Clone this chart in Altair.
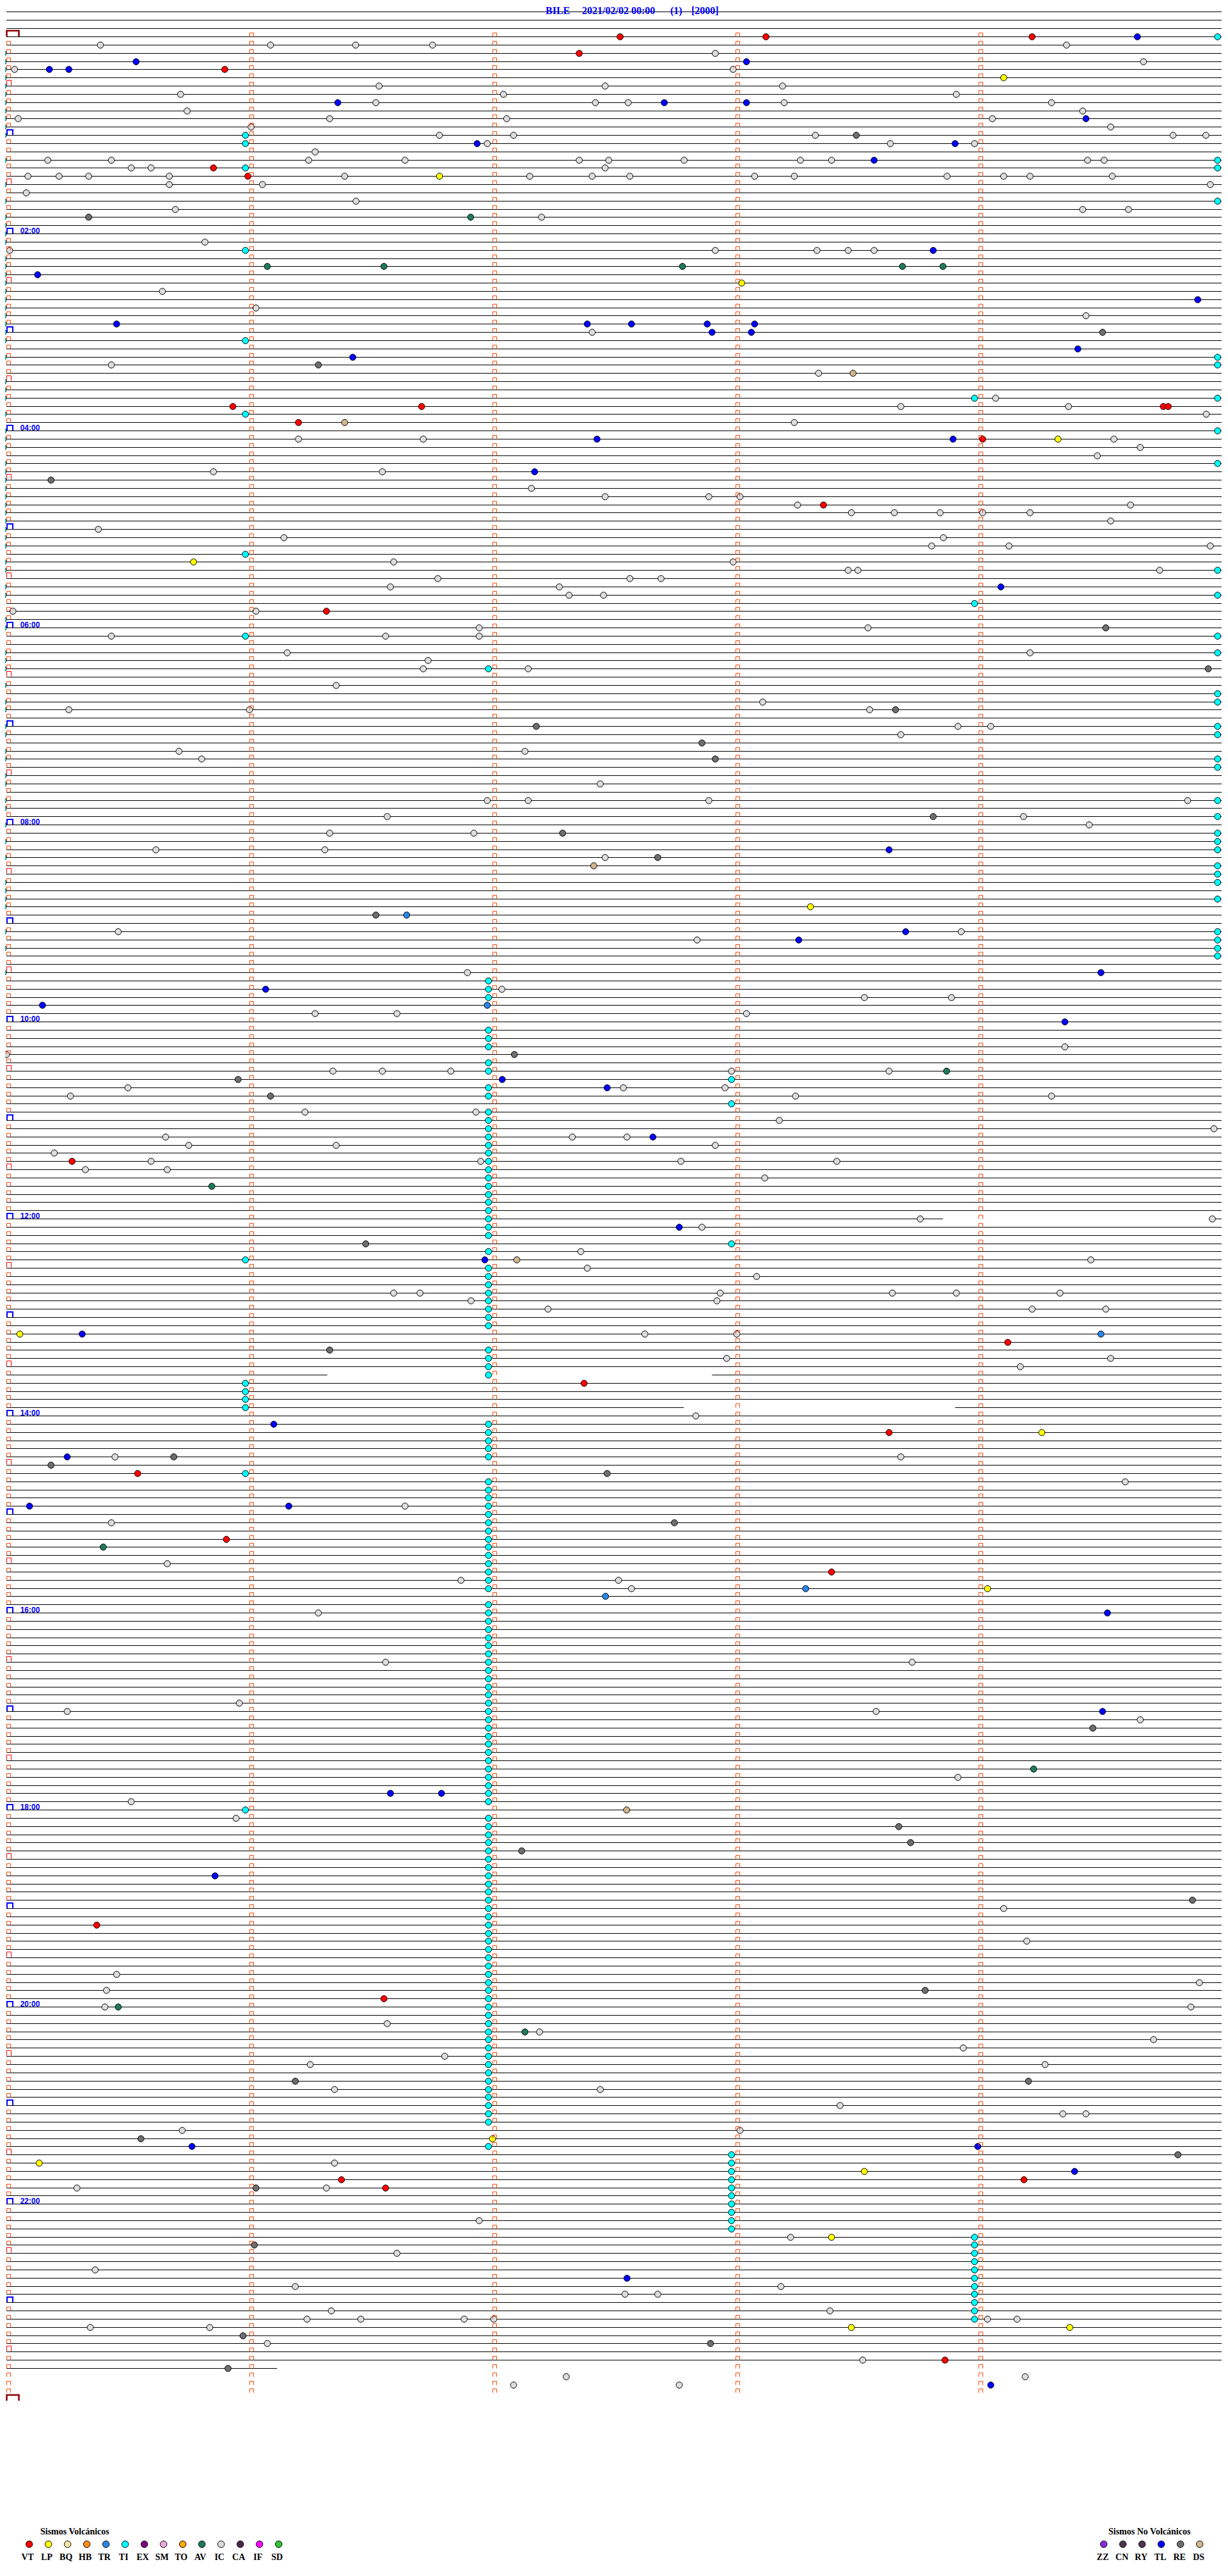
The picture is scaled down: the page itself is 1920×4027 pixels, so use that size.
import altair as alt
import pandas as pd

# ============================ values ============================
TITLE_PARTS = ["BILE", "2021/02/02 00:00", "(1)", "[2000]"]
TITLE_LEFT_PX = [845, 902, 1040, 1073]          # left edge of each header piece

VOLC_TYPES = ["VT", "LP", "BQ", "HB", "TR", "TI", "EX", "SM", "TO", "AV", "IC", "CA", "IF", "SD"]
VOLC_COLORS = ["#FF0000", "#FFFF00", "#F2E3A6", "#FF8C1A", "#2A86E8", "#00FFFF", "#800080",
               "#EBA8E0", "#FFA500", "#1F7A5C", "#DCDCDC", "#4A2A48", "#FF00FF", "#33C433"]
NONV_TYPES = ["ZZ", "CN", "RY", "TL", "RE", "DS"]
NONV_COLORS = ["#8A2BE2", "#4D3550", "#4D3550", "#0000FF", "#6E6E6E", "#D2B48C"]

HOUR_LABELS = ["02:00", "04:00", "06:00", "08:00", "10:00", "12:00",
               "14:00", "16:00", "18:00", "20:00", "22:00"]
HOUR_LABEL_ROWS = [24, 48, 72, 96, 120, 144, 168, 192, 216, 240, 264]

# one row = 5 minutes; events given as (row, seconds into the row)
TI_ROWS_START = [2, 3, 4, 5, 6, 7, 8, 9, 10, 11, 12, 15, 18, 20, 22, 23, 24, 25, 27, 28, 29, 30, 31,
                 32, 33, 34, 35, 36, 37, 39, 42, 43, 44, 46, 48, 49, 50, 52, 53, 54, 55, 56, 57, 58,
                 59, 60, 61, 62, 64, 65, 67, 68, 71, 72, 75, 76, 77, 79, 81, 82, 84, 85, 87, 88, 90,
                 91, 93, 94, 96, 98, 100, 103, 104, 105, 106, 109, 111, 114]
TI_ROWS_END = [0, 15, 16, 20, 39, 40, 44, 48, 52, 65, 68, 73, 75, 80, 81, 84, 85, 88, 89, 93, 95,
               97, 98, 99, 101, 102, 103, 105, 109, 110, 111, 112]
TI_ROWS_MIN1 = [12, 13, 16, 26, 37, 46, 63, 73, 149, 164, 165, 166, 167, 175, 216]
TI_ROWS_MIN2 = [77, 115, 116, 117, 121, 122, 123, 125, 126, 128, 129, 131, 132, 133, 134, 135, 136,
                137, 138, 139, 140, 141, 142, 143, 144, 145, 146, 148, 150, 151, 152, 153, 154, 155,
                156, 157, 160, 161, 162, 163, 169, 170, 171, 172, 173, 176, 177, 178, 179, 180, 181,
                182, 183, 184, 185, 186, 187, 188, 189, 191, 192, 193, 194, 195, 196, 197, 198, 199,
                200, 201, 202, 203, 204, 205, 206, 207, 208, 209, 210, 211, 212, 213, 214, 215, 217,
                218, 219, 220, 221, 222, 223, 224, 225, 226, 227, 228, 229, 230, 231, 232, 233, 234,
                235, 236, 237, 238, 239, 240, 241, 242, 243, 244, 245, 246, 247, 248, 249, 250, 251,
                252, 253, 254, 257]
TI_ROWS_MIN3 = [127, 130, 147, 258, 259, 260, 261, 262, 263, 264, 265, 266, 267]
TI_ROWS_MIN4 = [44, 69, 268, 269, 270, 271, 272, 273, 274, 275, 276, 277, 278]
TI_SECONDS = [0.0, 299.8, 59.8, 119.8, 179.8, 239.8]

VT = [(0, 152.3), (0, 188.3), (0, 254.0), (2, 142.2), (4, 54.7), (16, 51.9), (17, 60.4), (45, 56.7),
      (45, 103.3), (45, 286.4), (45, 287.6), (47, 72.9), (49, 241.8), (57, 202.5), (70, 79.8),
      (137, 17.0), (159, 248.0), (164, 143.4), (170, 218.7), (175, 33.2), (183, 55.1), (187, 204.5),
      (230, 23.1), (239, 94.0), (261, 83.5), (261, 252.0), (262, 94.4), (283, 232.5)]
LP = [(5, 247.0), (17, 107.7), (30, 182.3), (49, 260.4), (64, 47.0), (106, 199.3), (158, 4.1),
      (170, 256.4), (189, 243.0), (256, 120.8), (259, 8.9), (260, 212.6), (268, 204.5), (279, 209.4),
      (279, 263.3)]
TR = [(107, 99.6), (118, 119.5), (158, 271.0), (189, 198.1), (190, 148.7)]
AV = [(22, 115.4), (28, 65.2), (28, 94.0), (28, 167.7), (28, 222.0), (28, 232.0), (126, 232.9),
      (140, 51.5), (184, 24.7), (211, 254.4), (240, 28.4), (243, 128.8)]
DS = [(41, 209.8), (47, 84.3), (101, 145.8), (149, 126.8), (216, 153.9)]
RE = [(12, 210.6), (22, 21.1), (36, 271.4), (40, 77.8), (54, 11.8), (72, 272.2), (77, 297.5),
      (82, 220.3), (84, 131.6), (86, 172.5), (88, 175.8), (95, 229.6), (97, 138.1), (100, 161.6),
      (107, 92.0), (124, 126.2), (127, 58.0), (129, 66.0), (147, 89.5), (160, 80.6), (173, 42.1),
      (174, 11.8), (175, 149.1), (181, 165.7), (206, 269.0), (218, 221.1), (220, 224.0), (221, 128.0),
      (227, 293.6), (238, 227.6), (249, 72.1), (249, 253.1), (256, 34.0), (258, 290.0), (262, 62.4),
      (269, 62.0), (280, 59.2), (281, 174.6), (284, 55.5)]
TL = [(0, 280.0), (3, 32.8), (3, 183.5), (4, 11.4), (4, 16.2), (8, 82.6), (8, 163.2), (8, 183.5),
      (10, 267.3), (13, 117.0), (13, 235.0), (15, 215.0), (26, 229.6), (29, 8.5), (32, 294.9),
      (35, 28.0), (35, 144.2), (35, 155.1), (35, 173.8), (35, 185.5), (36, 175.0), (36, 184.7),
      (38, 265.3), (39, 86.3), (49, 146.6), (49, 234.5), (53, 131.2), (67, 246.3), (99, 218.7),
      (109, 222.8), (110, 196.4), (114, 271.0), (116, 64.8), (118, 9.7), (120, 262.1), (127, 123.2),
      (128, 149.1), (134, 160.4), (145, 166.9), (149, 118.9), (158, 19.5), (169, 66.8), (173, 15.8),
      (179, 6.5), (179, 70.5), (192, 272.6), (204, 271.4), (214, 95.6), (214, 108.2), (224, 52.3),
      (257, 46.6), (257, 240.6), (260, 264.5), (273, 154.0), (286, 243.8)]
IC = [(1, 24.0), (1, 66.0), (1, 87.0), (1, 106.0), (1, 262.5), (2, 175.8), (3, 281.5), (4, 2.8),
      (4, 180.2), (6, 92.8), (6, 148.6), (6, 192.4), (7, 43.8), (7, 123.5), (7, 235.3), (8, 92.0),
      (8, 146.2), (8, 154.3), (8, 192.8), (8, 258.8), (9, 45.4), (9, 266.5), (10, 3.7), (10, 80.6),
      (10, 124.3), (10, 244.2), (11, 61.2), (11, 273.4), (12, 107.7), (12, 126.0), (12, 200.5),
      (12, 288.8), (12, 296.9), (13, 119.5), (13, 219.0), (13, 239.8), (14, 77.0), (15, 11.0),
      (15, 26.7), (15, 75.4), (15, 99.2), (15, 142.2), (15, 149.5), (15, 168.1), (15, 196.8),
      (15, 204.5), (15, 267.7), (15, 271.8), (16, 31.6), (16, 36.5), (16, 148.6), (17, 6.1),
      (17, 13.8), (17, 21.1), (17, 41.0), (17, 84.3), (17, 130.0), (17, 145.4), (17, 154.7),
      (17, 185.5), (17, 195.3), (17, 233.0), (17, 247.0), (17, 253.5), (17, 273.8), (18, 41.0),
      (18, 64.0), (18, 298.0), (19, 5.7), (20, 87.1), (21, 42.5), (21, 266.5), (21, 277.8),
      (22, 132.9), (25, 49.8), (26, 1.6), (26, 175.8), (26, 200.9), (26, 208.6), (26, 215.0),
      (31, 39.3), (33, 62.4), (34, 267.3), (36, 145.4), (40, 26.7), (41, 201.3), (44, 245.0),
      (45, 221.6), (45, 263.0), (46, 297.0), (47, 195.3), (49, 72.9), (49, 103.7), (49, 274.2),
      (50, 280.7), (51, 270.1), (53, 51.9), (53, 93.6), (55, 130.4), (56, 148.6), (56, 174.2),
      (56, 181.9), (57, 196.1), (57, 278.3), (58, 209.4), (58, 220.0), (58, 231.3), (58, 241.8),
      (58, 253.5), (59, 273.4), (60, 23.5), (61, 69.3), (61, 232.1), (62, 229.2), (62, 248.3),
      (62, 298.0), (64, 96.4), (64, 180.2), (65, 208.6), (65, 211.0), (65, 285.5), (66, 107.3),
      (66, 154.7), (66, 162.4), (67, 95.6), (67, 137.3), (68, 139.7), (68, 148.2), (70, 2.4),
      (70, 62.4), (72, 117.5), (72, 213.5), (73, 26.7), (73, 94.4), (73, 117.5), (75, 70.1),
      (75, 253.5), (76, 104.9), (77, 103.7), (77, 129.6), (79, 82.2), (81, 187.5), (82, 16.2),
      (82, 60.8), (82, 213.9), (84, 235.7), (84, 243.8), (85, 221.6), (87, 43.4), (87, 128.8),
      (88, 49.0), (91, 147.4), (93, 119.5), (93, 129.6), (93, 174.2), (93, 292.4), (95, 94.8),
      (95, 251.9), (96, 268.1), (97, 80.6), (97, 116.2), (99, 37.7), (99, 79.4), (100, 148.6),
      (109, 28.4), (109, 236.5), (110, 171.3), (114, 114.6), (116, 123.1), (117, 212.6), (117, 234.1),
      (119, 77.0), (119, 97.2), (119, 183.5), (123, 262.1), (124, 0.8), (126, 81.4), (126, 93.6),
      (126, 110.5), (126, 179.8), (126, 218.7), (128, 30.8), (128, 153.1), (128, 178.2), (129, 16.6),
      (129, 195.6), (129, 258.8), (131, 74.5), (131, 116.7), (132, 191.6), (133, 298.9), (134, 40.1),
      (134, 140.5), (134, 154.0), (135, 45.8), (135, 82.2), (135, 175.8), (136, 12.6), (137, 36.5),
      (137, 117.9), (137, 167.3), (137, 205.8), (138, 20.3), (138, 40.5), (139, 188.0), (144, 226.4),
      (144, 298.5), (145, 172.5), (148, 142.6), (149, 268.5), (150, 144.2), (151, 186.0), (153, 96.4),
      (153, 102.9), (153, 177.0), (153, 219.5), (153, 235.3), (153, 260.9), (154, 115.5),
      (154, 176.2), (155, 134.5), (155, 254.0), (155, 272.2), (158, 158.4), (158, 181.1),
      (161, 178.6), (161, 273.4), (162, 251.1), (168, 171.0), (173, 27.6), (173, 221.6), (176, 277.0),
      (179, 99.2), (181, 26.7), (186, 40.5), (188, 113.0), (188, 151.9), (189, 155.1), (192, 77.8),
      (198, 94.4), (198, 224.4), (203, 58.3), (204, 15.8), (204, 215.5), (205, 280.7), (212, 235.7),
      (215, 31.6), (217, 57.5), (228, 247.0), (232, 252.7), (236, 28.0), (237, 295.3), (238, 25.5),
      (240, 25.1), (240, 293.2), (242, 94.8), (243, 132.4), (244, 284.0), (245, 237.0), (246, 109.0),
      (247, 75.8), (247, 257.2), (250, 81.8), (250, 147.4), (252, 206.6), (253, 261.6), (253, 267.3),
      (255, 44.2), (255, 181.9), (259, 81.8), (262, 18.2), (262, 79.8), (266, 117.5), (268, 194.4),
      (270, 97.2), (272, 22.7), (274, 72.1), (274, 192.0), (275, 153.5), (275, 161.6), (277, 81.0),
      (277, 204.1), (278, 75.0), (278, 88.3), (278, 113.8), (278, 121.1), (278, 243.0), (278, 250.3),
      (279, 21.5), (279, 51.0), (281, 65.2), (283, 212.2), (285, 139.0), (285, 252.3), (286, 126.0),
      (286, 166.9)]

HEADER_ROWS = [-4, -3, -2, -1]
LAST_ROW = 284
LAST_ROW_END_SEC = 67.6
LINE_GAPS = {144: (232.0, 298.0), 163: (80.0, 175.0), 167: (168.0, 235.0)}

# ============================ geometry of the sheet ============================
X0, XPPS = -3.0, 380.0 / 60.0      # pixel of second 0, pixels per second
Y0, YPPR = 49.0, 12.834            # pixel of row 0, pixels per row
XSCALE = alt.Scale(domain=[0, 300], range=[X0, X0 + 300 * XPPS], nice=False, zero=False)
YSCALE = alt.Scale(domain=[0, 288], range=[Y0, Y0 + 288 * YPPR], nice=False, zero=False)
LINE_START, LINE_END = 0.79, 300.79


def sec_at(px):
    return (px - X0) / XPPS


def row_at(py):
    return (py - Y0) / YPPR


def row_on_pixel(r, half=0.5):
    """row value whose line falls on the centre of a whole pixel row (crisp 1px lines)"""
    return (round(Y0 + YPPR * r) + half - Y0) / YPPR


COLOR = alt.Scale(domain=VOLC_TYPES + NONV_TYPES, range=VOLC_COLORS + NONV_COLORS)

# ---- row lines
seg = []
for r in HEADER_ROWS:
    seg.append((r, LINE_START, LINE_END))
for r in range(0, LAST_ROW + 1):
    if r == LAST_ROW:
        seg.append((r, LINE_START, LAST_ROW_END_SEC))
    elif r in LINE_GAPS:
        a, b = LINE_GAPS[r]
        seg.append((r, LINE_START, a))
        seg.append((r, b, LINE_END))
    else:
        seg.append((r, LINE_START, LINE_END))
seg_df = pd.DataFrame(seg, columns=["row", "t0", "t1"])
seg_df["ypos"] = [row_on_pixel(r) for r in seg_df["row"]]

lines = alt.Chart(seg_df).mark_rule(color="black", strokeWidth=1).encode(
    x=alt.X("t0:Q", scale=XSCALE, axis=None),
    x2="t1:Q",
    y=alt.Y("ypos:Q", scale=YSCALE, axis=None),
)

# ---- events
ev = []
for typ, pts in [("IC", IC), ("TL", TL), ("RE", RE), ("VT", VT), ("LP", LP),
                 ("AV", AV), ("DS", DS), ("TR", TR)]:
    for r, s in pts:
        ev.append((r, s, typ))
for rows, s in zip([TI_ROWS_START, TI_ROWS_END, TI_ROWS_MIN1, TI_ROWS_MIN2, TI_ROWS_MIN3, TI_ROWS_MIN4],
                   TI_SECONDS):
    for r in rows:
        ev.append((r, s, "TI"))
ev_df = pd.DataFrame(ev, columns=["row", "sec", "type"])
ev_df["ypos"] = [row_on_pixel(r) for r in ev_df["row"]]

events = alt.Chart(ev_df).mark_point(
    shape="circle", filled=True, size=95, stroke="black", strokeWidth=1, opacity=1
).encode(
    x=alt.X("sec:Q", scale=XSCALE, axis=None),
    y=alt.Y("ypos:Q", scale=YSCALE, axis=None),
    fill=alt.Fill("type:N", scale=COLOR, legend=None),
)

# ---- minute marks (open brackets on every row at every minute)
orange, red, blue, maroon = [], [], [], []
for r in range(0, 289):
    if r in (0, 288):
        maroon.append((r, sec_at(12.0)))
    elif r % 12 == 0:
        blue.append((r, sec_at(7.5)))
    elif r % 12 == 6:
        red.append((r, sec_at(6.0)))
    else:
        orange.append((r, sec_at(5.5)))
    if r < 288:
        for m in range(1, 5):
            orange.append((r, sec_at(5.5) + 60 * m))


def bracket(points, path, size, color, width, dy):
    df = pd.DataFrame(points, columns=["row", "sec"])
    df["ypos"] = [row_on_pixel(r, 0.0) for r in df["row"]]
    return alt.Chart(df).mark_point(
        shape=path, filled=False, size=size, color=color, stroke=color,
        strokeWidth=width, opacity=1, yOffset=dy
    ).encode(
        x=alt.X("sec:Q", scale=XSCALE, axis=None),
        y=alt.Y("ypos:Q", scale=YSCALE, axis=None),
    )


b_orange = bracket(orange, "M-1,1L-1,-1L1,-1L1,1", 36, "#FF4500", 1, -2.5)
b_red = bracket(red, "M-0.875,1L-0.875,-1L0.875,-1L0.875,1", 64, "#FF0000", 1, -4.5)
b_blue = bracket(blue, "M-1,0.889L-1,-0.889L1,-0.889L1,0.889", 81, "#0000FF", 2, -4)
b_maroon = bracket(maroon, "M-1,0.474L-1,-0.474L1,-0.474L1,0.474", 361, "#8B0000", 2.5, -4.5)

# ---- hour labels
hl_df = pd.DataFrame({"row": HOUR_LABEL_ROWS, "label": HOUR_LABELS,
                      "sec": [sec_at(31.7 - 8)] * len(HOUR_LABELS)})
hl_df["ypos"] = [row_on_pixel(r, 0.0) for r in hl_df["row"]]
hour_text = alt.Chart(hl_df).mark_text(
    align="left", baseline="alphabetic", font="Liberation Sans", fontWeight="bold",
    fontSize=12, color="#0000FF", dy=-0.5
).encode(
    x=alt.X("sec:Q", scale=XSCALE, axis=None),
    y=alt.Y("ypos:Q", scale=YSCALE, axis=None),
    text="label:N",
)

# ---- header (baseline kept low enough that the text box stays inside the chart)
t_df = pd.DataFrame({"label": TITLE_PARTS,
                     "sec": [sec_at(p) for p in TITLE_LEFT_PX],
                     "row": [row_at(14.4)] * len(TITLE_PARTS)})
title_text = alt.Chart(t_df).mark_text(
    align="left", baseline="alphabetic", font="Liberation Serif", fontWeight="bold",
    fontSize=16, color="#0000FF"
).encode(
    x=alt.X("sec:Q", scale=XSCALE, axis=None),
    y=alt.Y("row:Q", scale=YSCALE, axis=None),
    text="label:N",
)

# ---- legend
lg_circ_x = [37.7 + 30 * k for k in range(len(VOLC_TYPES))] + \
            [1717.7 + 30 * k for k in range(len(NONV_TYPES))]
lg_lab_x = [x - 2.5 for x in lg_circ_x[:len(VOLC_TYPES)]] + \
           [x - 1.5 for x in lg_circ_x[len(VOLC_TYPES):]]
lg_df = pd.DataFrame({
    "type": VOLC_TYPES + NONV_TYPES,
    "sec": [sec_at(x) for x in lg_circ_x],
    "lsec": [sec_at(x) for x in lg_lab_x],
    "row": [row_at(3969.3)] * len(lg_circ_x),
    "lrow": [row_at(3993.7)] * len(lg_circ_x),
})
lg_circles = alt.Chart(lg_df).mark_point(
    shape="circle", filled=True, size=110, stroke="black", strokeWidth=1, opacity=1
).encode(
    x=alt.X("sec:Q", scale=XSCALE, axis=None),
    y=alt.Y("row:Q", scale=YSCALE, axis=None),
    fill=alt.Fill("type:N", scale=COLOR, legend=None),
)
lg_labels = alt.Chart(lg_df).mark_text(
    align="center", baseline="alphabetic", font="Liberation Serif", fontWeight="bold",
    fontSize=14, color="black"
).encode(
    x=alt.X("lsec:Q", scale=XSCALE, axis=None),
    y=alt.Y("lrow:Q", scale=YSCALE, axis=None),
    text="type:N",
)
lt_df = pd.DataFrame({"label": ["Sismos Volcánicos", "Sismos No Volcánicos"],
                      "sec": [sec_at(55), sec_at(1725)],
                      "row": [row_at(3954.3)] * 2})
lg_titles = alt.Chart(lt_df).mark_text(
    align="left", baseline="alphabetic", font="Liberation Serif", fontWeight="bold",
    fontSize=14, color="black"
).encode(
    x=alt.X("sec:Q", scale=XSCALE, axis=None),
    y=alt.Y("row:Q", scale=YSCALE, axis=None),
    text="label:N",
)

chart = alt.layer(
    lines, events, b_orange, b_red, b_blue, b_maroon, hour_text, title_text,
    lg_circles, lg_labels, lg_titles
).properties(
    width=1904, height=4011, padding=0,
    autosize=alt.AutoSizeParams(type="none"), background="white"
).configure_view(strokeWidth=0)

chart.save("out.html", embed_options={"renderer": "svg", "actions": False})
